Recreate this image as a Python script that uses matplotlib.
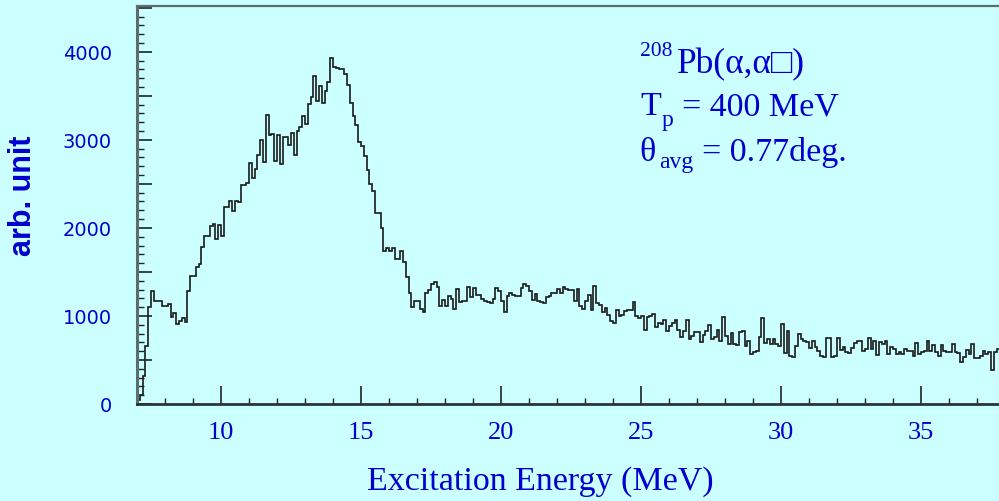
import matplotlib
matplotlib.use("Agg")
import matplotlib.pyplot as plt
from matplotlib.ticker import MultipleLocator, FuncFormatter

# Excitation-energy spectrum, counts per 0.1 MeV bin starting at 7.0 MeV
e_start = 7.0
bin_width = 0.1
counts = [
    40, 100, 320, 660, 1100, 1280, 1175, 1175, 1175, 1117,
    1117, 1140, 985, 1030, 910, 940, 980, 935, 1280, 1450,
    1450, 1553, 1590, 1780, 1913, 1913, 2026, 2045, 1875, 2035,
    1905, 2235, 2235, 2310, 2197, 2310, 2291, 2490, 2490, 2510,
    2740, 2568, 2670, 2833, 3003, 2746, 3284, 3057, 3068, 2765,
    3057, 2727, 3030, 3030, 2943, 3080, 2830, 3106, 3144, 3276,
    3182, 3409, 3485, 3723, 3436, 3610, 3420, 3560, 3655, 3928,
    3826, 3815, 3807, 3799, 3750, 3625, 3420, 3269, 3163, 2974,
    2935, 2822, 2663, 2500, 2417, 2170, 2170, 1996, 1742, 1769,
    1742, 1769, 1648, 1648, 1739, 1610, 1447, 1258, 1099, 1174,
    1174, 1080, 1042, 1258, 1300, 1360, 1383, 1330, 1117, 1182,
    1117, 1231, 1193, 1080, 1307, 1155, 1167, 1174, 1326, 1212,
    1318, 1242, 1242, 1193, 1174, 1160, 1144, 1193, 1318, 1288,
    1167, 1042, 1231, 1258, 1242, 1231, 1231, 1318, 1364, 1345,
    1288, 1182, 1250, 1174, 1155, 1144, 1212, 1231, 1258, 1258,
    1307, 1258, 1326, 1307, 1295, 1295, 1174, 1307, 1117, 1080,
    1174, 1242, 1068, 1345, 1144, 1129, 1042, 1095, 1015, 939,
    917, 1068, 1004, 1015, 1061, 1068, 1068, 1155, 1004, 977,
    1004, 841, 992, 1004, 1023, 880, 917, 909, 955, 833,
    890, 917, 955, 841, 765, 833, 955, 739, 777, 814,
    814, 701, 788, 833, 902, 740, 758, 841, 720, 985,
    777, 682, 803, 682, 675, 814, 833, 663, 720, 568,
    587, 598, 758, 977, 690, 739, 682, 739, 682, 663,
    909, 575, 826, 549, 538, 663, 795, 739, 720, 701,
    636, 720, 651, 598, 549, 530, 750, 750, 538, 549,
    750, 614, 644, 587, 575, 636, 690, 710, 710, 606,
    625, 746, 625, 720, 557, 701, 682, 720, 568, 644,
    625, 568, 587, 568, 625, 606, 606, 541, 693, 568,
    595, 606, 710, 606, 670, 587, 541, 670, 606, 587,
    587, 682, 595, 580, 481, 530, 617, 568, 682, 519,
    519, 549, 606, 568, 595, 390, 587, 625,
]

x_label = "Excitation Energy (MeV)"
y_label = "arb. unit"

BG = "#ccffff"
BLUE = "#0000cc"
W, H = 999, 502

fig = plt.figure(figsize=(W / 100, H / 100), dpi=100)
fig.patch.set_facecolor(BG)
ax = fig.add_axes([137 / W, 97 / H, 862 / W, 398 / H])
ax.set_facecolor(BG)

edges = [e_start + i * bin_width for i in range(len(counts) + 1)]
ax.stairs(counts, edges, baseline=None, color="#1a1a1a", linewidth=1.2)
# rise from zero at the low-energy edge
ax.plot([edges[0], edges[0]], [0, counts[0]], color="#1a1a1a", linewidth=1.2)

ax.set_xlim(7.0, 7.0 + 862 / 28)
ax.set_ylim(0, 4520)

# spines
ax.spines["right"].set_visible(False)
ax.spines["left"].set_color("#5a6e6e")
ax.spines["left"].set_linewidth(2.2)
ax.spines["bottom"].set_color("#2a3535")
ax.spines["bottom"].set_linewidth(2.0)
ax.spines["top"].set_color("#5a6e6e")
ax.spines["top"].set_linewidth(1.6)

# ticks
ax.xaxis.set_major_locator(MultipleLocator(5))
ax.xaxis.set_minor_locator(MultipleLocator(1))
ax.yaxis.set_major_locator(MultipleLocator(500))
ax.yaxis.set_minor_locator(MultipleLocator(100))
ax.yaxis.set_major_formatter(
    FuncFormatter(lambda v, p: f"{int(v)}" if int(v) % 1000 == 0 else ""))

ax.tick_params(axis="x", which="major", direction="in", length=13,
               width=1.2, color="#222222", pad=12, labelcolor=BLUE,
               labelsize=19, top=False)
ax.tick_params(axis="x", which="minor", direction="in", length=4.5,
               width=1.0, color="#222222", top=False)
ax.tick_params(axis="y", which="major", direction="in", length=11,
               width=1.2, color="#222222", pad=18, labelcolor=BLUE,
               labelsize=14, right=False)
ax.tick_params(axis="y", which="minor", direction="in", length=5,
               width=1.0, color="#222222", right=False)
for lab in ax.get_xticklabels():
    lab.set_family("Liberation Serif")
for lab in ax.get_yticklabels():
    lab.set_family("DejaVu Sans")

# axis titles
fig.text(540 / W, 12 / H, x_label, ha="center", va="baseline",
         family="Liberation Serif", fontsize=24.5, color=BLUE)
fig.text(23 / W, 1 - 196 / H, y_label, rotation=90, ha="center",
         va="center", family="Liberation Sans", fontweight="bold",
         fontsize=22, color=BLUE)


def put(xp, yp, s, size):
    fig.text(xp / W, 1 - yp / H, s, ha="left", va="baseline",
             family=["Liberation Serif", "DejaVu Sans"], fontsize=size,
             color=BLUE)


# reaction / kinematics annotation
put(640, 56.5, "208", 15.5)
put(677, 73, "Pb(\u03b1,\u03b1\u25a1)", 25.5)
put(640, 115, "T", 24.5)
put(662, 126, "p", 17)
put(682, 115, "= 400 MeV", 24.5)
put(639, 161.5, "\u03b8", 24.5)
put(659, 168, "avg", 17)
put(702, 161.5, "= 0.77deg.", 24.5)

fig.savefig("out.png", dpi=100, facecolor=BG)
